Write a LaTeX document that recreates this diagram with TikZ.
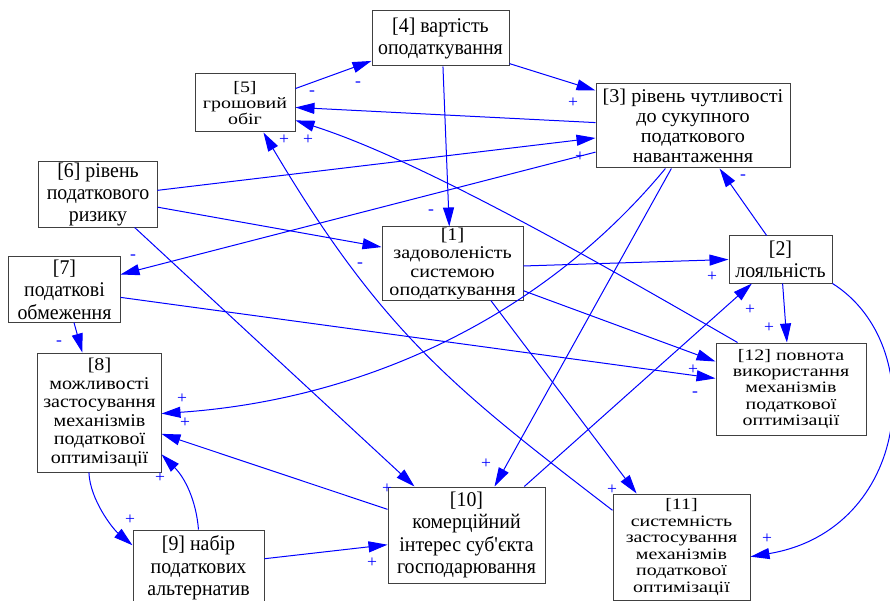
\documentclass[tikz,border=0pt]{standalone}
\usepackage{fontspec}
\setmainfont{Liberation Serif}
\newfontfamily\tallfont[FakeStretch=0.95]{Liberation Serif}
\newfontfamily\nodefont[FakeStretch=1.04]{Liberation Serif}
\newfontfamily\midfont[FakeStretch=1.12]{Liberation Serif}
\newfontfamily\flatfont[FakeStretch=1.25]{Liberation Serif}
\usetikzlibrary{arrows.meta}
\tikzset{
  factor/.style={draw=black!75, line width=1bp, align=center, inner sep=0pt},
  fa/.style={font=\tallfont\fontsize{21}{22.5}\selectfont},
  fb/.style={font=\midfont\fontsize{18}{18.5}\selectfont},
  fc/.style={font=\flatfont\fontsize{16}{16.5}\selectfont},
  link/.style={blue, line width=1bp, -{Triangle[length=19bp,width=11bp]}},
  sign/.style={blue, inner sep=0pt, font=\nodefont\fontsize{17}{17}\selectfont}
}
\begin{document}
\begin{tikzpicture}[x=1bp,y=-1bp]
    \useasboundingbox (0,0) rectangle (890,601);
    \node[factor, fa, minimum width=137bp, minimum height=55bp] (n4) at (440.5,38.5) {[4] вартість\\оподаткування};
    \node[factor, fc, minimum width=100bp, minimum height=58bp] (n5) at (245,103) {[5]\\грошовий\\обіг};
    \node[factor, font=\nodefont\fontsize{19.5}{20}\selectfont, minimum width=194bp, minimum height=84bp] (n3) at (693,126) {[3] рівень чутливості\\до сукупного\\податкового\\навантаження};
    \node[factor, fa, minimum width=118bp, minimum height=65bp] (n6) at (98,194.5) {[6] рівень\\податкового\\ризику};
    \node[factor, fb, minimum width=141bp, minimum height=73bp] (n1) at (452.5,263.5) {[1]\\задоволеність\\системою\\оподаткування};
    \node[factor, fa, minimum width=103bp, minimum height=47bp] (n2) at (780.5,259.5) {[2]\\лояльність};
    \node[factor, fa, minimum width=111bp, minimum height=65bp] (n7) at (64.5,289.5) {[7]\\податкові\\обмеження};
    \node[factor, fb, minimum width=123bp, minimum height=119bp] (n8) at (99.5,412.5) {[8]\\можливості\\застосування\\механізмів\\податкової\\оптимізації};
    \node[factor, fc, minimum width=150bp, minimum height=92bp] (n12) at (791,389) {[12] повнота\\використання\\механізмів\\податкової\\оптимізації};
    \node[factor, fa, minimum width=157bp, minimum height=96bp] (n10) at (466.5,535) {[10]\\комерційний\\інтерес суб'єкта\\господарювання};
    \node[factor, fc, minimum width=137bp, minimum height=106bp] (n11) at (681.5,547) {[11]\\системність\\застосування\\механізмів\\податкової\\оптимізації};
    \node[factor, fa, minimum width=131bp, minimum height=76bp] (n9) at (198.5,568) {[9] набір\\податкових\\альтернатив};

    \draw[link] (n5.16) -- (n4.198) node[sign] (s54) at (358,84) {-};
    \draw[link] (n4.-20) -- (n3.160) node[sign] (s43) at (573,103) {+};
    \draw[link] (n4.-85) -- (n1.95) node[sign] (s41) at (431,212) {-};
    \draw[link] (n3.178) -- (n5.-5) node[sign] (s35) at (312,93) {-};
    \draw[link] (n12.139) .. controls (600,263) and (420,160) .. (n5.-19) node[sign] (s125) at (308,140) {+};
    \draw[link] (n11.152) .. controls (456,390) and (383,334) .. (n5.-58) node[sign] (s115) at (284,140) {+};
    \draw[link] (n6.4) -- (n3.187) node[sign] (s63) at (580,157) {+};
    \draw[link] (n3.195) -- (n7.15) node[sign] (s37) at (133,257) {-};
    \draw[link] (n6.-12) -- (n1.167) node[sign] (s61) at (360,265) {-};
    \draw[link] (n6.-42) -- (n10.137) node[sign] (s610) at (387,489) {+};
    \draw[link] (n1.-2) -- (n2.west) node[sign] (s12) at (712,277) {+};
    \draw[link] (n1.-21) -- (n12.160) node[sign] (s112) at (693,370) {+};
    \draw[link] (n1.-44) -- (n11.130) node[sign] (s111) at (612,490) {+};
    \draw[link] (n3.237) .. controls (540,320) and (360,400) .. (n8.-1) node[sign] (s38) at (182,399) {+};
    \draw[link] (n3.243) -- (n10.60) node[sign] (s310) at (486,464) {+};
    \draw[link] (n2.120) -- (n3.-58) node[sign] (s23) at (743,177) {-};
    \draw[link] (n10.40) -- (n2.220) node[sign] (s102) at (750,310) {+};
    \draw[link] (n2.-85) -- (n12.95) node[sign] (s212) at (769,328) {+};
    \draw[link] (n7.-8) -- (n12.172) node[sign] (s712) at (695,394) {-};
    \draw[link] (n7.-74) -- (n8.106) node[sign] (s78) at (59,343) {-};
    \draw[link] (n10.162) -- (n8.-19) node[sign] (s108) at (185,423) {+};
    \draw[link] (n9.north) .. controls (196,500) and (185,478) .. (n8.-34) node[sign] (s98) at (160,478) {+};
    \draw[link] (n8.260) .. controls (90,500) and (113,529) .. (n9.161) node[sign] (s89) at (130,520) {+};
    \draw[link] (n9.8) -- (n10.187) node[sign] (s910) at (372,563) {+};
    \draw[link] (n2.south east) .. controls (930,345) and (910,530) .. (n11.-8) node[sign] (s211) at (767,539) {+};
  \end{tikzpicture}
\end{document}
